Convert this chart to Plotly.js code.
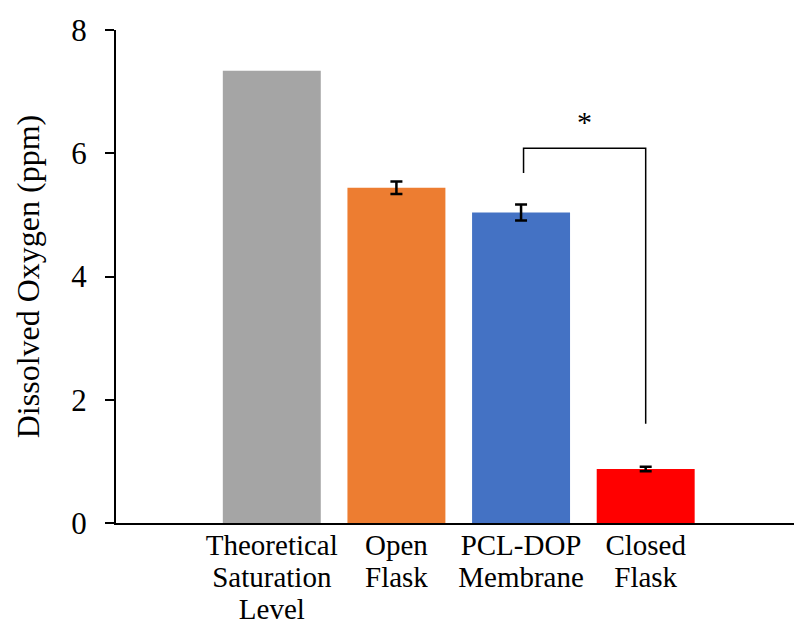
<!DOCTYPE html>
<html>
<head>
<meta charset="utf-8">
<script src="https://cdn.plot.ly/plotly-3.0.1.min.js"></script>
<style>
html,body{margin:0;padding:0;background:#fff;}
#chart{width:794px;height:626px;}
</style>
</head>
<body>
<div id="chart"></div>
<script>
// ---- data ----
const categories = ["Theoretical<br>Saturation<br>Level", "Open<br>Flask", "PCL-DOP<br>Membrane", "Closed<br>Flask"];
const values = [7.34, 5.44, 5.04, 0.876];
const errors = [NaN, 0.10, 0.13, 0.035];
const barColors = ["#A5A5A5", "#ED7D31", "#4472C4", "#FF0000"];
const yTicks = [0, 2, 4, 6, 8];
// significance bracket between PCL-DOP (index 2) and Closed Flask (index 3)
const sigLeftX = 2.02, sigRightX = 3;
const sigTopY = 6.08, sigLeftEndY = 5.68, sigRightEndY = 1.61, sigStarY = 6.52;
const sigLabel = "*";

const FONT = 'Liberation Serif, Times New Roman, serif';
const xIdx = categories.map((c, i) => i);

const trace = {
  type: 'bar',
  x: xIdx,
  y: values,
  marker: {color: barColors, line: {width: 0}},
  error_y: {type: 'data', array: errors, visible: true, color: '#000', thickness: 2.5, width: 6},
  hoverinfo: 'none'
};

const layout = {
  width: 794, height: 626,
  margin: {l: 116, r: 0, t: 30, b: 103},
  paper_bgcolor: '#fff', plot_bgcolor: '#fff',
  showlegend: false,
  bargap: 0.214,
  font: {family: FONT, color: '#000', size: 30},
  xaxis: {
    range: [-1.25, 4.19],
    tickvals: xIdx,
    ticktext: categories,
    tickangle: 0,
    ticklabelstandoff: -5,
    showline: true, linecolor: '#000', linewidth: 2,
    ticks: '', showgrid: false, zeroline: false,
    tickfont: {family: FONT, size: 29, color: '#000'},
    automargin: false, fixedrange: true
  },
  yaxis: {
    range: [0, 8],
    tickvals: yTicks,
    ticktext: yTicks.map(String),
    showline: true, linecolor: '#000', linewidth: 2,
    ticks: 'outside', ticklen: 9, tickwidth: 2, tickcolor: '#000',
    ticklabelstandoff: 12,
    showgrid: false, zeroline: false,
    tickfont: {family: FONT, size: 31, color: '#000'},
    title: {text: 'Dissolved Oxygen (ppm)', font: {family: FONT, size: 32, color: '#000'}, standoff: 22},
    automargin: false, fixedrange: true
  },
  shapes: [{
    type: 'path', xref: 'x', yref: 'y',
    path: `M ${sigLeftX} ${sigLeftEndY} L ${sigLeftX} ${sigTopY} L ${sigRightX} ${sigTopY} L ${sigRightX} ${sigRightEndY}`,
    line: {color: '#000', width: 1.5}
  }],
  annotations: [{
    xref: 'x', yref: 'y', x: (sigLeftX + sigRightX) / 2, y: sigStarY,
    text: sigLabel, showarrow: false,
    font: {family: FONT, size: 30, color: '#000'}
  }]
};

Plotly.newPlot('chart', [trace], layout, {staticPlot: true, displayModeBar: false}).then(function () {
  // tighten multi-line tick label spacing to match the reference
  document.querySelectorAll('.xtick text').forEach(function (t) {
    t.querySelectorAll('tspan.line').forEach(function (ts, i) {
      ts.setAttribute('dy', (i * 1.1) + 'em');
    });
  });
});
</script>
</body>
</html>
